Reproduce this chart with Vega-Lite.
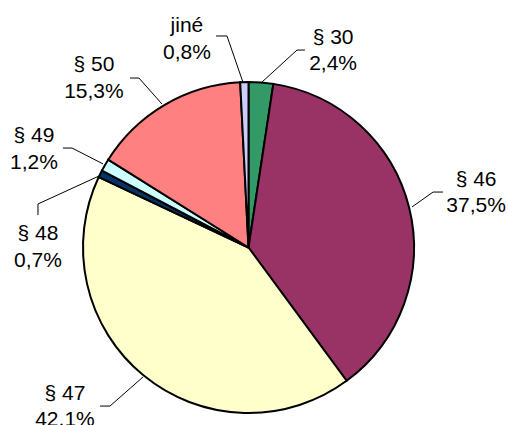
{
  "$schema": "https://vega.github.io/schema/vega-lite/v6.json",
  "width": 497,
  "height": 355,
  "autosize": {"type": "none"},
  "padding": {"left": 0, "top": 70, "right": 12, "bottom": 0},
  "background": "#ffffff",
  "config": {"view": {"stroke": null}},
  "datasets": {
    "slices": [
      {"par": "§ 30", "podil": 2.4},
      {"par": "§ 46", "podil": 37.5},
      {"par": "§ 47", "podil": 42.1},
      {"par": "§ 48", "podil": 0.7},
      {"par": "§ 49", "podil": 1.2},
      {"par": "§ 50", "podil": 15.3},
      {"par": "jiné", "podil": 0.8}
    ],
    "labels": [
      {"par": "jiné", "x": -0.372, "y": 1.302},
      {"par": "§ 30", "x": 0.511, "y": 1.230},
      {"par": "§ 46", "x": 1.375, "y": 0.372},
      {"par": "§ 47", "x": -1.109, "y": -0.921},
      {"par": "§ 48", "x": -1.272, "y": 0.045},
      {"par": "§ 49", "x": -1.296, "y": 0.637},
      {"par": "§ 50", "x": -0.934, "y": 1.066}
    ],
    "leaders": [
      {"par": "jiné", "k": 1, "x": -0.033, "y": 0.997},
      {"par": "jiné", "k": 2, "x": -0.130, "y": 1.278},
      {"par": "jiné", "k": 3, "x": -0.196, "y": 1.278},
      {"par": "§ 30", "k": 1, "x": 0.082, "y": 1.000},
      {"par": "§ 30", "k": 2, "x": 0.293, "y": 1.193},
      {"par": "§ 30", "k": 3, "x": 0.341, "y": 1.193},
      {"par": "§ 46", "k": 1, "x": 0.988, "y": 0.245},
      {"par": "§ 46", "k": 2, "x": 1.115, "y": 0.335},
      {"par": "§ 46", "k": 3, "x": 1.175, "y": 0.335},
      {"par": "§ 47", "k": 1, "x": -0.637, "y": -0.782},
      {"par": "§ 47", "k": 2, "x": -0.837, "y": -0.958},
      {"par": "§ 47", "k": 3, "x": -0.897, "y": -0.958},
      {"par": "§ 48", "k": 1, "x": -0.903, "y": 0.432},
      {"par": "§ 48", "k": 2, "x": -1.272, "y": 0.263},
      {"par": "§ 48", "k": 3, "x": -1.272, "y": 0.196},
      {"par": "§ 49", "k": 1, "x": -0.879, "y": 0.505},
      {"par": "§ 49", "k": 2, "x": -1.066, "y": 0.601},
      {"par": "§ 49", "k": 3, "x": -1.121, "y": 0.601},
      {"par": "§ 50", "k": 1, "x": -0.523, "y": 0.867},
      {"par": "§ 50", "k": 2, "x": -0.662, "y": 1.024},
      {"par": "§ 50", "k": 3, "x": -0.716, "y": 1.024}
    ]
  },
  "layer": [
    {
      "data": {"name": "slices"},
      "transform": [{"window": [{"op": "row_number", "as": "poradi"}]}],
      "mark": {"type": "arc", "outerRadius": 165.5, "stroke": "#000000", "strokeWidth": 2},
      "encoding": {
        "theta": {"field": "podil", "type": "quantitative", "stack": true},
        "color": {
          "field": "par",
          "type": "nominal",
          "scale": {
            "domain": ["§ 30", "§ 46", "§ 47", "§ 48", "§ 49", "§ 50", "jiné"],
            "range": ["#339966", "#993366", "#FFFFCC", "#003366", "#CCFFFF", "#FF8080", "#CCCCFF"]
          },
          "legend": null
        },
        "order": {"field": "poradi", "type": "quantitative"}
      }
    },
    {
      "data": {"name": "leaders"},
      "mark": {"type": "line", "stroke": "#000000", "strokeWidth": 1},
      "encoding": {
        "x": {"field": "x", "type": "quantitative", "scale": {"domain": [-1.5015, 1.5015], "nice": false, "zero": false}, "axis": null},
        "y": {"field": "y", "type": "quantitative", "scale": {"domain": [-1.0725, 1.0725], "nice": false, "zero": false}, "axis": null},
        "detail": {"field": "par", "type": "nominal"},
        "order": {"field": "k", "type": "quantitative"}
      }
    },
    {
      "data": {"name": "labels"},
      "transform": [
        {"lookup": "par", "from": {"data": {"name": "slices"}, "key": "par", "fields": ["podil"]}},
        {"calculate": "datum.par + '\\n' + replace(format(datum.podil, '.1f'), '.', ',') + '%'", "as": "popis"}
      ],
      "mark": {"type": "text", "font": "Liberation Sans", "fontSize": 21, "lineBreak": "\n", "lineHeight": 26.5, "align": "center", "baseline": "alphabetic", "color": "#000000"},
      "encoding": {
        "x": {"field": "x", "type": "quantitative", "scale": {"domain": [-1.5015, 1.5015], "nice": false, "zero": false}, "axis": null},
        "y": {"field": "y", "type": "quantitative", "scale": {"domain": [-1.0725, 1.0725], "nice": false, "zero": false}, "axis": null},
        "text": {"field": "popis", "type": "nominal"}
      }
    }
  ]
}
